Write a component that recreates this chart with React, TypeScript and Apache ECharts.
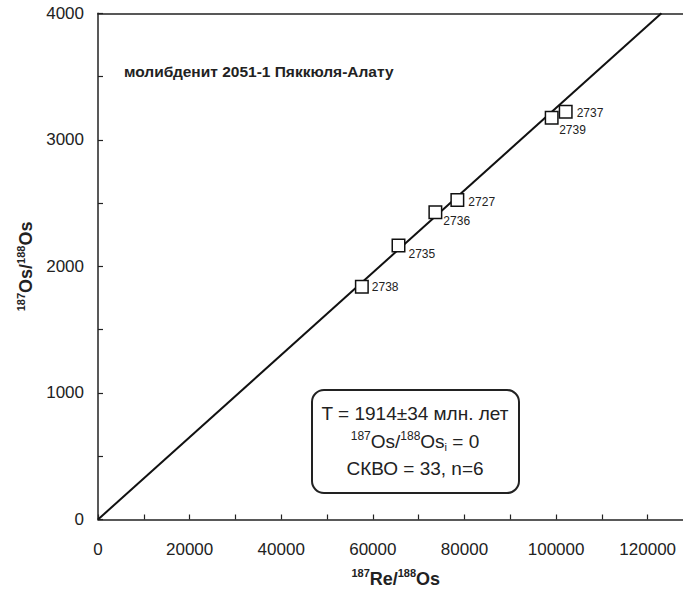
import React, { useEffect, useRef } from "react";
import * as echarts from "echarts";

const sampleNames = ["2738", "2735", "2736", "2727", "2739", "2737"];
const reOs = [57600, 65600, 73650, 78450, 99040, 102100];
const osOs = [1840, 2165, 2428, 2525, 3175, 3222];
const labelOffsets: [number, number][] = [
  [-2, 0],
  [-2, 8],
  [-4, 9],
  [-1, 2],
  [-4.5, 12],
  [-1, 1.5],
];
const isochron: [number, number][] = [
  [0, 0],
  [123000, 4000],
];
const xTicks = [0, 20000, 40000, 60000, 80000, 100000, 120000];
const yTicks = [0, 1000, 2000, 3000, 4000];

const FONT = "Arial, 'Liberation Sans', sans-serif";
const INK = "#222";

export default function App() {
  const ref = useRef<HTMLDivElement>(null);
  useEffect(() => {
    if (!ref.current) return;
    const chart = echarts.init(ref.current, undefined, { renderer: "svg" });
    const supRich = {
      b: { fontSize: 18, fontWeight: "bold", fontFamily: FONT, color: INK, lineHeight: 22 },
      s: { fontSize: 11, fontWeight: "bold", fontFamily: FONT, color: INK, lineHeight: 12, verticalAlign: "top" },
    };
    chart.setOption({
      animation: false,
      backgroundColor: "#fff",
      grid: { left: 98, top: 13.3, right: -10.5, bottom: 72.5, outerBoundsMode: "none", containLabel: false },
      xAxis: [
        {
          type: "value",
          min: 0,
          max: 130000,
          interval: 10000,
          position: "bottom",
          name: "{s|187}{b|Re/}{s|188}{b|Os}",
          nameLocation: "middle",
          nameGap: 48,
          nameTextStyle: { rich: supRich },
          axisLine: { show: true, onZero: false, lineStyle: { color: INK, width: 1.5 } },
          axisTick: { show: true, inside: true, length: 5, lineStyle: { color: INK, width: 1.2 } },
          axisLabel: {
            fontSize: 17,
            fontFamily: FONT,
            color: INK,
            margin: 21,
            formatter: (v: number) => (xTicks.includes(v) ? String(v) : ""),
          },
          splitLine: { show: false },
        },
        {
          type: "value",
          min: 0,
          max: 130000,
          position: "top",
          axisLine: { show: true, onZero: false, lineStyle: { color: INK, width: 1.5 } },
          axisTick: { show: false },
          axisLabel: { show: false },
          splitLine: { show: false },
        },
      ],
      yAxis: {
        type: "value",
        min: 0,
        max: 4000,
        interval: 500,
        name: "{s|187}{b|Os/}{s|188}{b|Os}",
        nameLocation: "middle",
        nameGap: 60,
        nameRotate: 90,
        nameTextStyle: { rich: supRich },
        axisLine: { show: true, onZero: false, lineStyle: { color: INK, width: 1.5 } },
        axisTick: { show: true, inside: true, length: 5, lineStyle: { color: INK, width: 1.2 } },
        axisLabel: {
          fontSize: 17,
          fontFamily: FONT,
          color: INK,
          margin: 14,
          formatter: (v: number) => (yTicks.includes(v) ? String(v) : ""),
        },
        splitLine: { show: false },
      },
      series: [
        {
          type: "line",
          data: isochron,
          symbol: "none",
          lineStyle: { color: "#111", width: 2 },
          z: 2,
        },
        {
          type: "scatter",
          symbol: "rect",
          symbolSize: 12.5,
          itemStyle: { color: "#fff", borderColor: "#111", borderWidth: 1.5, opacity: 1 },
          z: 3,
          data: reOs.map((x, i) => ({
            value: [x, osOs[i]],
            name: sampleNames[i],
            label: {
              show: true,
              position: "right",
              distance: 5,
              offset: labelOffsets[i],
              formatter: "{b}",
              fontSize: 12,
              fontFamily: FONT,
              color: INK,
            },
          })),
        },
      ],
      graphic: [
        {
          type: "text",
          left: 124,
          top: 63,
          style: {
            text: "молибденит 2051-1 Пяккюля-Алату",
            font: `bold 15.5px ${FONT}`,
            fill: INK,
          },
        },
        {
          type: "rect",
          shape: { x: 312, y: 390, width: 207, height: 103, r: 12 },
          style: { fill: "#fff", stroke: INK, lineWidth: 2 },
          z: 10,
        },
        {
          type: "text",
          x: 415,
          y: 413,
          z: 11,
          style: {
            text: "T = 1914±34 млн. лет",
            font: `19px ${FONT}`,
            fill: INK,
            align: "center",
            verticalAlign: "middle",
          },
        },
        {
          type: "text",
          x: 415,
          y: 441,
          z: 11,
          style: {
            text: "{s|187}{n|Os/}{s|188}{n|Os}{i|i}{n| = 0}",
            align: "center",
            verticalAlign: "middle",
            rich: {
              n: { fontSize: 19, fontFamily: FONT, fill: INK, color: INK, lineHeight: 22 },
              s: { fontSize: 12, fontFamily: FONT, fill: INK, color: INK, lineHeight: 12, verticalAlign: "top" },
              i: { fontSize: 11, fontFamily: FONT, fill: INK, color: INK, lineHeight: 11, verticalAlign: "bottom" },
            },
          },
        },
        {
          type: "text",
          x: 415,
          y: 468,
          z: 11,
          style: {
            text: "СКВО = 33, n=6",
            font: `19px ${FONT}`,
            fill: INK,
            align: "center",
            verticalAlign: "middle",
          },
        },
      ],
    });
    return () => chart.dispose();
  }, []);
  return (
    <div
      ref={ref}
      style={{ position: "fixed", left: 0, top: 0, width: 683, height: 592, background: "#fff" }}
    />
  );
}
